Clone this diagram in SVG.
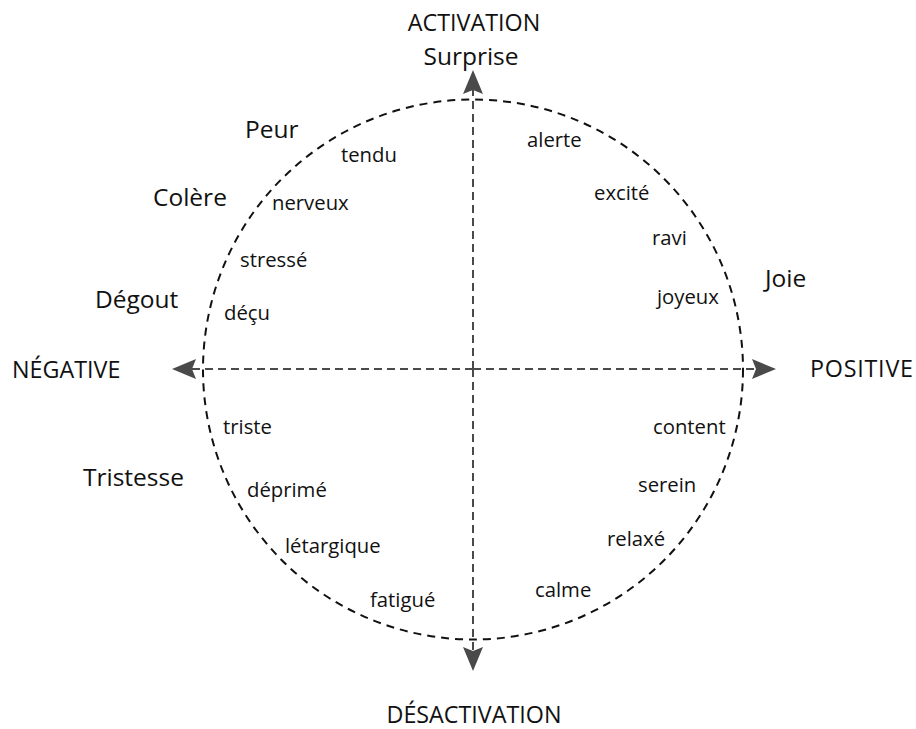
<svg xmlns="http://www.w3.org/2000/svg" width="916" height="729" viewBox="0 0 916 729">
<defs>
<style>
text{font-family:"Open Sans","Noto Sans","Liberation Sans",sans-serif;fill:#111}
.s{font-size:20.3px}
.b{font-size:24.5px}
.a{font-size:23.3px}
.m{text-anchor:middle}
.ax{stroke:#4a4a4a;stroke-width:2;stroke-dasharray:8 5;fill:none}
.c{stroke:#111;stroke-width:2;stroke-dasharray:8 6;fill:none}
</style>
<marker id="ah" viewBox="0 0 24 20" refX="22" refY="10" markerWidth="24" markerHeight="20" markerUnits="userSpaceOnUse" orient="auto">
<path d="M0,0 L24,10 L0,20 L4,10 Z" fill="#4a4a4a"/>
</marker>
</defs>
<g id="circle"><circle class="c" cx="473" cy="369.5" r="270"/></g>
<g id="connectors">
<line class="ax" x1="473" y1="369" x2="473" y2="72" marker-end="url(#ah)"/>
<line class="ax" x1="473" y1="369" x2="473" y2="669" marker-end="url(#ah)"/>
<line class="ax" x1="473" y1="369" x2="174" y2="369" marker-end="url(#ah)"/>
<line class="ax" x1="473" y1="369" x2="774" y2="369" marker-end="url(#ah)"/>
</g>
<g id="axis-labels">
<text class="a m" x="474" y="31">ACTIVATION</text>
<text class="a m" x="474" y="723">DÉSACTIVATION</text>
<text class="a" x="12" y="378">NÉGATIVE</text>
<text class="a" x="810" y="377" textLength="103">POSITIVE</text>
</g>
<g id="emotions">
<text class="b m" x="471" y="65">Surprise</text>
<text class="b" x="245" y="138">Peur</text>
<text class="b" x="153" y="206">Colère</text>
<text class="b" x="95" y="308">Dégout</text>
<text class="b" x="765" y="287">Joie</text>
<text class="b" x="83" y="486">Tristesse</text>
</g>
<g id="states">
<text class="s" x="341" y="162">tendu</text>
<text class="s" x="272" y="210">nerveux</text>
<text class="s" x="240" y="267">stressé</text>
<text class="s" x="224" y="320">déçu</text>
<text class="s" x="527" y="147">alerte</text>
<text class="s" x="594" y="200">excité</text>
<text class="s" x="652" y="245">ravi</text>
<text class="s" x="657" y="304">joyeux</text>
<text class="s" x="223" y="434">triste</text>
<text class="s" x="247" y="497">déprimé</text>
<text class="s" x="285" y="553">létargique</text>
<text class="s" x="370" y="607">fatigué</text>
<text class="s" x="653" y="434">content</text>
<text class="s" x="638" y="492">serein</text>
<text class="s" x="607" y="546">relaxé</text>
<text class="s" x="535" y="597">calme</text>
</g>
</svg>
